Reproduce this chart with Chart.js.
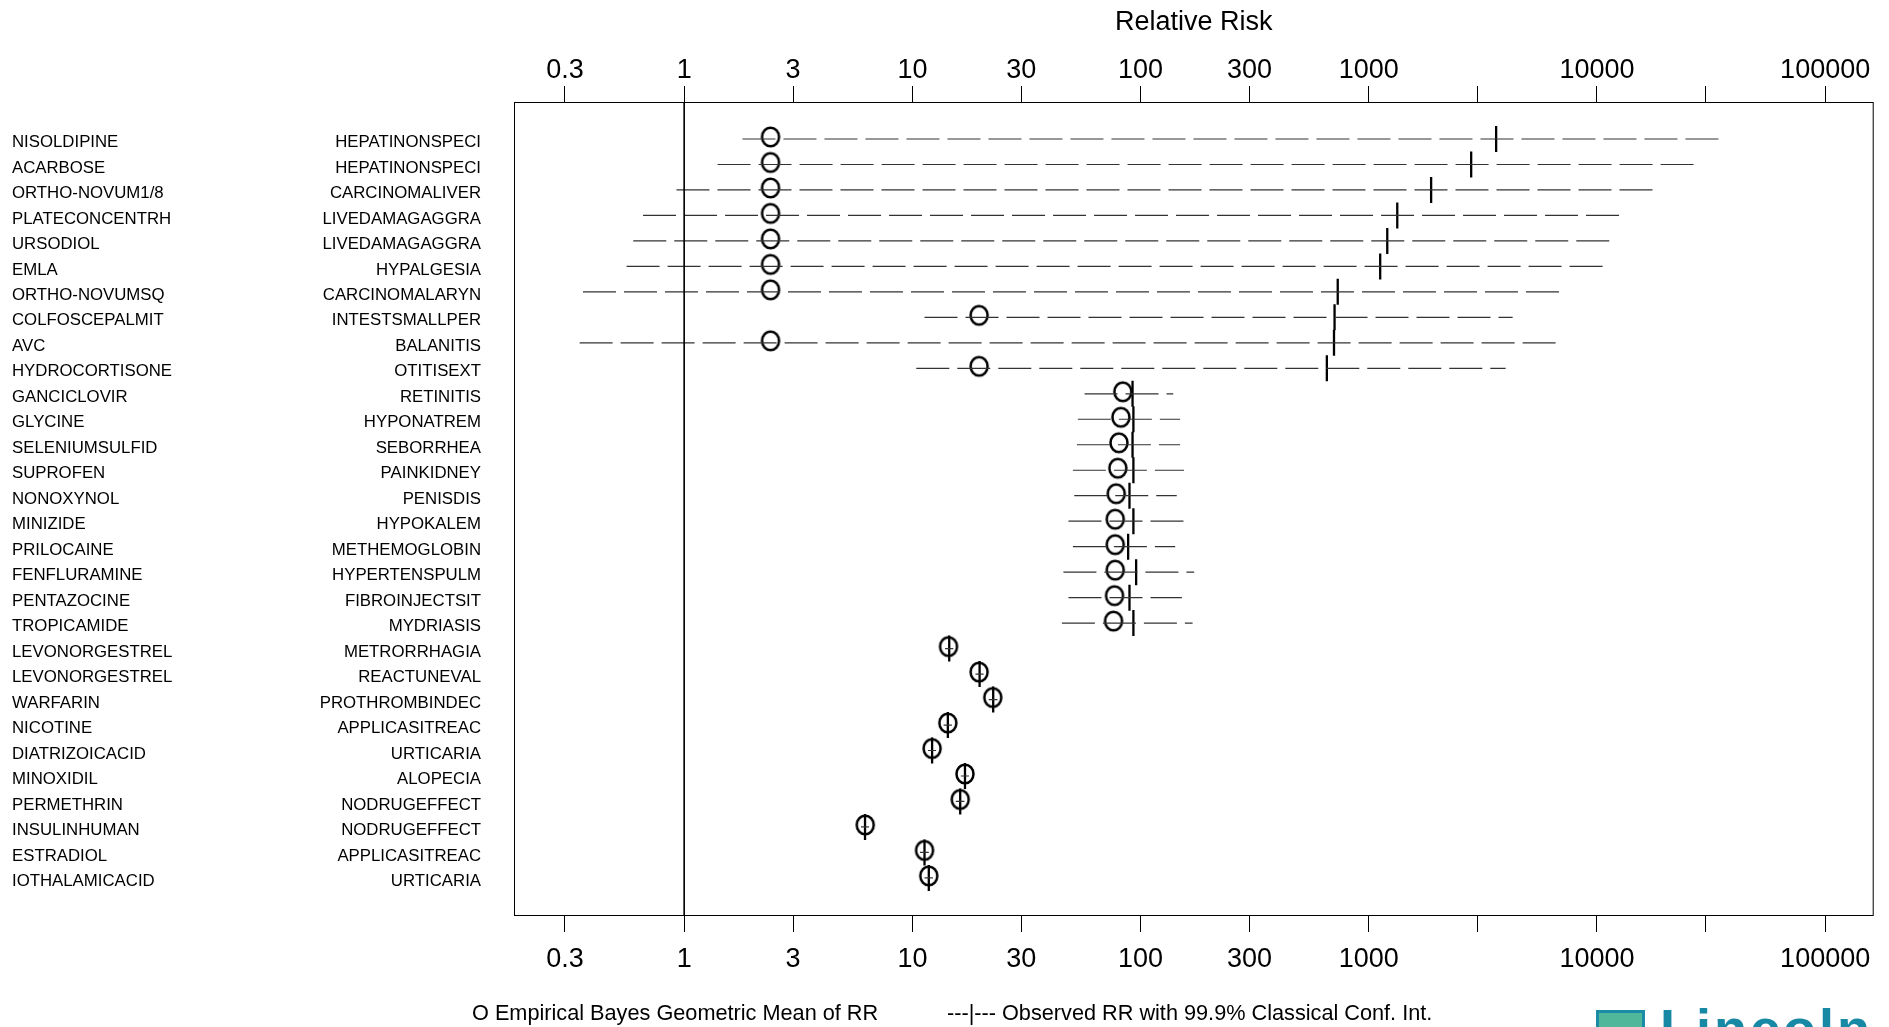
<!DOCTYPE html>
<html><head><meta charset="utf-8">
<script src="https://cdn.jsdelivr.net/npm/chart.js@4.4.1/dist/chart.umd.min.js"></script>
<style>
html,body{margin:0;padding:0;background:#fff;width:1889px;height:1027px;overflow:hidden;font-family:'Liberation Sans',Arial,sans-serif}
#wrap{position:absolute;left:0;top:0;width:1889px;height:1027px}
.leg{position:absolute;top:1000.5px;font-size:21.7px;line-height:24px;color:#000;white-space:nowrap}
#logoBox{position:absolute;left:1596px;top:1010px;width:49px;height:40px;box-sizing:border-box;border:3px solid #1a8ca6;background:#50b79b}
#logoText{position:absolute;left:1660px;top:1001px;font-weight:bold;font-size:54px;line-height:54px;letter-spacing:3px;color:#1889a5;white-space:nowrap}
</style></head>
<body>
<div id="wrap"><canvas id="c"></canvas></div>
<div class="leg" style="left:472px">O Empirical Bayes Geometric Mean of RR</div>
<div class="leg" style="left:947px">---|--- Observed RR with 99.9% Classical Conf. Int.</div>
<div id="logoBox"></div><div id="logoText">Lincoln</div>
<script>
const drugs = ['NISOLDIPINE','ACARBOSE','ORTHO-NOVUM1/8','PLATECONCENTRH','URSODIOL','EMLA','ORTHO-NOVUMSQ','COLFOSCEPALMIT','AVC','HYDROCORTISONE','GANCICLOVIR','GLYCINE','SELENIUMSULFID','SUPROFEN','NONOXYNOL','MINIZIDE','PRILOCAINE','FENFLURAMINE','PENTAZOCINE','TROPICAMIDE','LEVONORGESTREL','LEVONORGESTREL','WARFARIN','NICOTINE','DIATRIZOICACID','MINOXIDIL','PERMETHRIN','INSULINHUMAN','ESTRADIOL','IOTHALAMICACID'];
const events = ['HEPATINONSPECI','HEPATINONSPECI','CARCINOMALIVER','LIVEDAMAGAGGRA','LIVEDAMAGAGGRA','HYPALGESIA','CARCINOMALARYN','INTESTSMALLPER','BALANITIS','OTITISEXT','RETINITIS','HYPONATREM','SEBORRHEA','PAINKIDNEY','PENISDIS','HYPOKALEM','METHEMOGLOBIN','HYPERTENSPULM','FIBROINJECTSIT','MYDRIASIS','METRORRHAGIA','REACTUNEVAL','PROTHROMBINDEC','APPLICASITREAC','URTICARIA','ALOPECIA','NODRUGEFFECT','NODRUGEFFECT','APPLICASITREAC','URTICARIA'];
const ebgm = [2.39,2.39,2.39,2.39,2.39,2.39,2.39,19.6,2.39,19.6, 83.6,82,80.4,79.5,78.2,77.4,77.4,77.4,76.9,76.1, 14.4,19.6,22.5,14.3,12.2,17.0,16.2,6.21,11.3,11.8];
const observed = [3615,2810,1876,1333,1205,1122,731,708,704,655, 92.2,93,92.2,93,89.4,93,88.2,95.6,89.4,93, 14.5,19.7,22.6,14.3,12.2,17.0,16.2,6.2,11.3,11.8];
const ciLow = [1.80,1.40,0.925,0.66,0.598,0.559,0.36,11.3,0.348,10.4, 56.8,53.1,52.6,50.5,51.2,48.3,50.5,45.9,48.3,45.2, 13.9,18.9,21.6,13.7,11.7,16.3,15.5,5.95,10.8,11.3];
const ciHigh = [36300,28200,18800,13400,12100,11270,7310,4270,7110,3980, 139,149,149,155,144,158.5,141.8,171.7,151.7,169, 15.1,20.5,23.6,14.9,12.7,17.7,16.9,6.45,11.8,12.3];
const tickValues = [0.3,1,3,10,30,100,300,1000,3000,10000,30000,100000];
const tickLabels = ['0.3','1','3','10','30','100','300','1000','','10000','','100000'];
const refValue = 1;

const X_MIN = 0.1795, X_MAX = 163200;
const Y_MIN = -1.452, Y_MAX = 30.495;
const FONT = "'Liberation Sans', Arial, sans-serif";
Chart.defaults.font.family = FONT;
Chart.defaults.color = '#000';

function makeO() {
  const c = document.createElement('canvas');
  c.width = 26; c.height = 30;
  const g = c.getContext('2d');
  g.lineWidth = 2.5; g.strokeStyle = '#000';
  g.beginPath(); g.ellipse(13, 13, 8.5, 9.3, 0, 0, Math.PI * 2); g.stroke();
  return c;
}
const oStyle = makeO();

const datasets = [];
datasets.push({
  label: 'ref', showLine: true, data: [{x: refValue, y: Y_MIN}, {x: refValue, y: Y_MAX}],
  borderColor: '#000', borderWidth: 1, pointRadius: 0, yAxisID: 'y', xAxisID: 'x'
});
drugs.forEach((d, i) => {
  datasets.push({
    label: 'ci' + i, showLine: true, data: [{x: ciLow[i], y: i}, {x: ciHigh[i], y: i}],
    borderColor: '#333', borderWidth: 1.2, borderDash: [33, 8], pointRadius: 0,
    yAxisID: 'y', xAxisID: 'x'
  });
});
datasets.push({
  label: 'observed', data: observed.map((v, i) => ({x: v, y: i})),
  pointStyle: 'line', rotation: 90, pointRadius: 13, borderWidth: 2.3, borderColor: '#000',
  yAxisID: 'y', xAxisID: 'x'
});
datasets.push({
  label: 'ebgm', data: ebgm.map((v, i) => ({x: v, y: i})),
  pointStyle: oStyle, pointRadius: 10, yAxisID: 'y', xAxisID: 'x'
});

const frame = {
  id: 'frame',
  afterDraw(chart) {
    const {ctx, chartArea: a} = chart;
    ctx.save(); ctx.strokeStyle = '#000'; ctx.lineWidth = 1;
    ctx.strokeRect(a.left + 0.5, a.top + 0.5, a.right - a.left - 1, a.bottom - a.top - 1);
    ctx.restore();
  }
};

const rowTicks = (axis) => { axis.ticks = drugs.map((_, i) => ({value: i})); };
const xTicks = (axis) => { axis.ticks = tickValues.map(v => ({value: v})); };

new Chart(document.getElementById('c'), {
  type: 'scatter',
  data: {datasets},
  plugins: [frame],
  options: {
    responsive: true, maintainAspectRatio: false, animation: false, events: [],
    layout: {padding: {left: 12, right: 15, top: 0, bottom: 0}},
    plugins: {legend: {display: false}, tooltip: {enabled: false}},
    scales: {
      x: {
        type: 'logarithmic', position: 'bottom', min: X_MIN, max: X_MAX,
        afterBuildTicks: xTicks,
        afterFit: (s) => { s.height = 111; },
        grid: {drawOnChartArea: false, drawTicks: true, tickLength: 16, tickColor: '#000', tickWidth: 1},
        border: {display: false},
        ticks: {autoSkip: false, maxRotation: 0, padding: 11, font: {size: 27}, color: '#000',
                callback: (v, i) => tickLabels[i]}
      },
      x2: {
        type: 'logarithmic', position: 'top', min: X_MIN, max: X_MAX,
        afterBuildTicks: xTicks,
        afterFit: (s) => { s.height = 102; },
        grid: {drawOnChartArea: false, drawTicks: true, tickLength: 16, tickColor: '#000', tickWidth: 1},
        border: {display: false},
        title: {display: true, text: 'Relative Risk', font: {size: 27}, color: '#000', padding: {top: 6, bottom: 0}},
        ticks: {autoSkip: false, maxRotation: 0, padding: -1, font: {size: 27}, color: '#000',
                callback: (v, i) => tickLabels[i]}
      },
      yDrug: {
        type: 'linear', position: 'left', reverse: true, min: Y_MIN, max: Y_MAX, weight: 2,
        afterBuildTicks: rowTicks,
        afterFit: (s) => { s.width = 240; },
        grid: {display: false}, border: {display: false},
        ticks: {autoSkip: false, crossAlign: 'far', labelOffset: 3.5, font: {size: 16.8}, color: '#000',
                callback: (v) => drugs[v]}
      },
      y: {
        type: 'linear', position: 'left', reverse: true, min: Y_MIN, max: Y_MAX, weight: 1,
        afterBuildTicks: rowTicks,
        afterFit: (s) => { s.width = 262; },
        grid: {display: false}, border: {display: false},
        ticks: {autoSkip: false, crossAlign: 'near', padding: 25, labelOffset: 3.5, font: {size: 16.8}, color: '#000',
                callback: (v) => events[v]}
      }
    }
  }
});
</script>
</body></html>
